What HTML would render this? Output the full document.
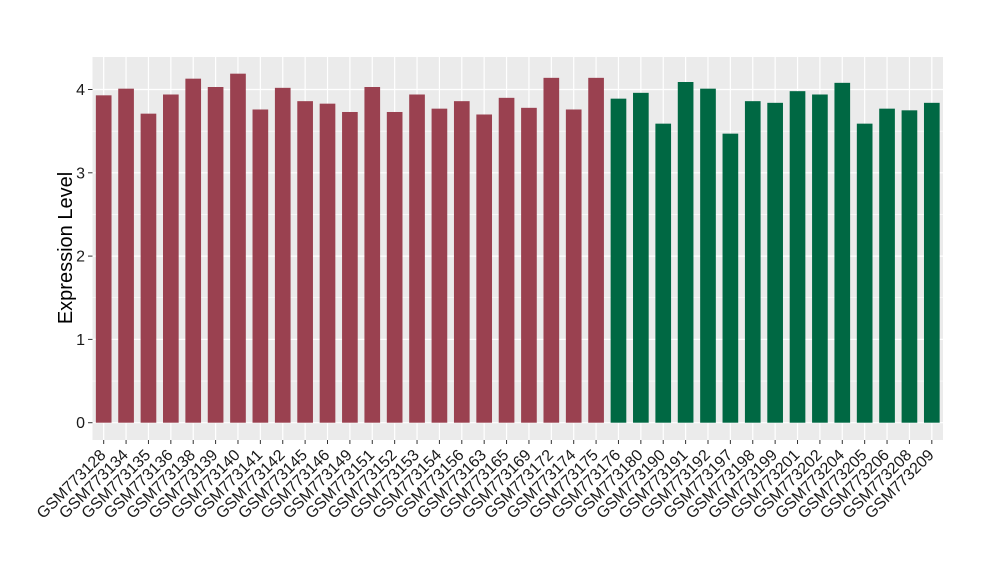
<!DOCTYPE html>
<html><head><meta charset="utf-8"><style>body{margin:0;background:#fff}svg{display:block}</style></head>
<body>
<svg id="s" width="1000" height="580" xmlns="http://www.w3.org/2000/svg" font-family="Liberation Sans, sans-serif"></svg>
<script>
const v=[3.93,4.01,3.71,3.94,4.13,4.03,4.19,3.76,4.02,3.86,3.83,3.73,4.03,3.73,3.94,3.77,3.86,3.70,3.90,3.78,4.14,3.76,4.14,
3.89,3.96,3.59,4.09,4.01,3.47,3.86,3.84,3.98,3.94,4.08,3.59,3.77,3.75,3.84];
const n=["128","134","135","136","138","139","140","141","142","145","146","149","151","152","153","154","156","163","165","169","172","174","175","176","180","190","191","192","197","198","199","201","202","204","205","206","208","209"];
const L=92.5,R=943,T=57,B=440,y0=422.7,k=83.3,st=(R-L)/38;
let h=`<rect x="${L}" y="${T}" width="${R-L}" height="${B-T}" fill="#EBEBEB"/>`;
for(let i=0;i<4;i++){const y=y0-(i+0.5)*k;h+=`<line x1="${L}" x2="${R}" y1="${y}" y2="${y}" stroke="#fff" stroke-width="0.6"/>`;}
for(let i=0;i<=4;i++){const y=y0-i*k;h+=`<line x1="${L}" x2="${R}" y1="${y}" y2="${y}" stroke="#fff" stroke-width="1.2"/><line x1="88" x2="${L}" y1="${y}" y2="${y}" stroke="#333"/><text x="85" y="${y+5.5}" font-size="16" text-anchor="end" fill="#1a1a1a">${i}</text>`;}
v.forEach((d,i)=>{const c=L+st*(i+0.5);h+=`<line x1="${c}" x2="${c}" y1="${T}" y2="${B}" stroke="#fff" stroke-width="1.2"/>`;});
v.forEach((d,i)=>{const c=L+st*(i+0.5),w=st*0.7;h+=`<rect x="${c-w/2}" y="${y0-d*k}" width="${w}" height="${d*k}" fill="${i<23?'#9A4150':'#006843'}"/><line x1="${c}" x2="${c}" y1="${B}" y2="${B+4}" stroke="#333"/><text transform="translate(${c+3},${B+16}) rotate(-45)" font-size="16" text-anchor="end" fill="#1a1a1a">GSM773${n[i]}</text>`;});
h+=`<text transform="translate(72,248) rotate(-90)" font-size="20" text-anchor="middle">Expression Level</text>`;
document.getElementById('s').innerHTML=h;
</script>
</body></html>
